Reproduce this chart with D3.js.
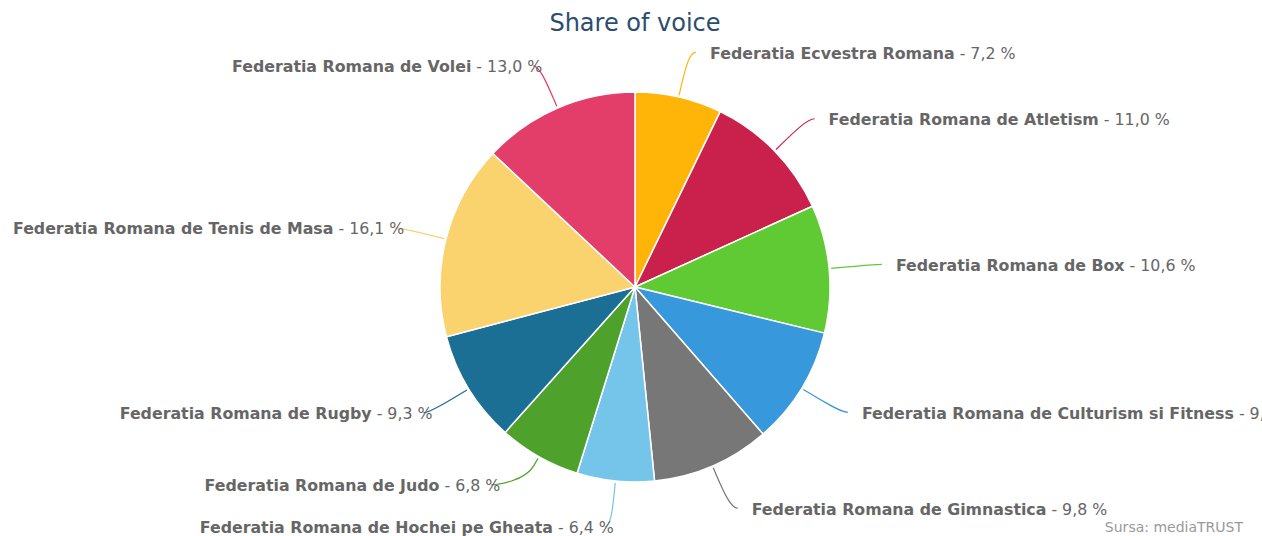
<!DOCTYPE html>
<html>
<head>
<meta charset="utf-8">
<script src="https://cdn.jsdelivr.net/npm/d3@7"></script>
<style>
  body { margin: 0; background: #fff; }
  svg { display: block; font-family: "DejaVu Sans", Verdana, sans-serif; }
</style>
</head>
<body>
<svg id="chart" width="1262" height="536"></svg>
<script>
const names = [
    "Federatia Ecvestra Romana",
    "Federatia Romana de Atletism",
    "Federatia Romana de Box",
    "Federatia Romana de Culturism si Fitness",
    "Federatia Romana de Gimnastica",
    "Federatia Romana de Hochei pe Gheata",
    "Federatia Romana de Judo",
    "Federatia Romana de Rugby",
    "Federatia Romana de Tenis de Masa",
    "Federatia Romana de Volei",
];
const shares = [7.2, 11.0, 10.6, 9.8, 9.8, 6.4, 6.8, 9.3, 16.1, 13.0];
const colors = [
    "#ffb508", "#c9214c", "#60ca34", "#3798db", "#777777",
    "#75c4ea", "#4ea12a", "#1b6f95", "#fad36f", "#e33d69",
];

const width = 1262, height = 536;
const cx = 635, cy = 287, r = 195;
const labelR = r + 46;

const svg = d3.select("#chart");

svg.append("text")
    .attr("x", cx)
    .attr("y", 31)
    .attr("text-anchor", "middle")
    .style("font-size", "24px")
    .style("fill", "#2c4d6e")
    .text("Share of voice");

const data = names.map((n, i) => ({ name: n, value: shares[i], color: colors[i] }));

const pie = d3.pie().sort(null).value((d) => d.value);
const arcs = pie(data);
const arc = d3.arc().innerRadius(0).outerRadius(r);

const g = svg.append("g").attr("transform", `translate(${cx},${cy})`);

g.selectAll("path.slice")
    .data(arcs)
    .join("path")
    .attr("class", "slice")
    .attr("d", arc)
    .attr("fill", (d) => d.data.color)
    .attr("stroke", "#fff")
    .attr("stroke-width", 1.5)
    .attr("stroke-linejoin", "round");

// label positions, highcharts-ish
const labels = arcs.map((a) => {
    const mid = (a.startAngle + a.endAngle) / 2;
    return {
        a: a,
        mid: mid,
        right: mid < Math.PI,
        y: -Math.cos(mid) * labelR,
    };
});

// simple overlap push per side
const minGap = 42;
["left", "right"].forEach((side) => {
    const list = labels
        .filter((l) => (side === "right") === l.right)
        .sort((p, q) => q.y - p.y);
    for (let i = 1; i < list.length; i++) {
        if (list[i - 1].y - list[i].y < minGap) list[i].y = list[i - 1].y - minGap;
    }
});

labels.forEach((l) => {
    const dy = Math.min(Math.abs(l.y), labelR - 0.5);
    const dx = Math.sqrt(labelR * labelR - dy * dy);
    l.x = l.right ? dx : -dx;
});

const radial = (mid, rr) => [Math.sin(mid) * rr, -Math.cos(mid) * rr];

g.selectAll("path.connector")
    .data(labels)
    .join("path")
    .attr("class", "connector")
    .attr("fill", "none")
    .attr("stroke", (l) => l.a.data.color)
    .attr("stroke-width", 1.2)
    .attr("d", (l) => {
        const p0 = radial(l.mid, r + 2);
        const p1 = radial(l.mid, r + 10);
        const c1 = radial(l.mid, r + 28);
        const end = [l.x + (l.right ? 7 : -6), l.y];
        return `M${p0}L${p1}C${c1} ${l.x},${l.y} ${end}`;
    });

const txt = g.selectAll("text.lbl")
    .data(labels)
    .join("text")
    .attr("class", "lbl")
    .attr("x", (l) => (l.right ? l.x + 21 : l.x + 3))
    .attr("y", (l) => l.y + 1)
    .attr("dy", "0.35em")
    .attr("text-anchor", (l) => (l.right ? "start" : "end"))
    .style("font-size", "15.8px")
    .style("fill", "#666");

txt.append("tspan")
    .style("font-weight", "bold")
    .text((l) => l.a.data.name);
txt.append("tspan")
    .text((l) => " - " + d3.format(".1f")(l.a.data.value).replace(".", ",") + " %");

svg.append("text")
    .attr("x", 1243)
    .attr("y", 532)
    .attr("text-anchor", "end")
    .style("font-size", "14px")
    .style("fill", "#999")
    .text("Sursa: mediaTRUST");
</script>
</body>
</html>
